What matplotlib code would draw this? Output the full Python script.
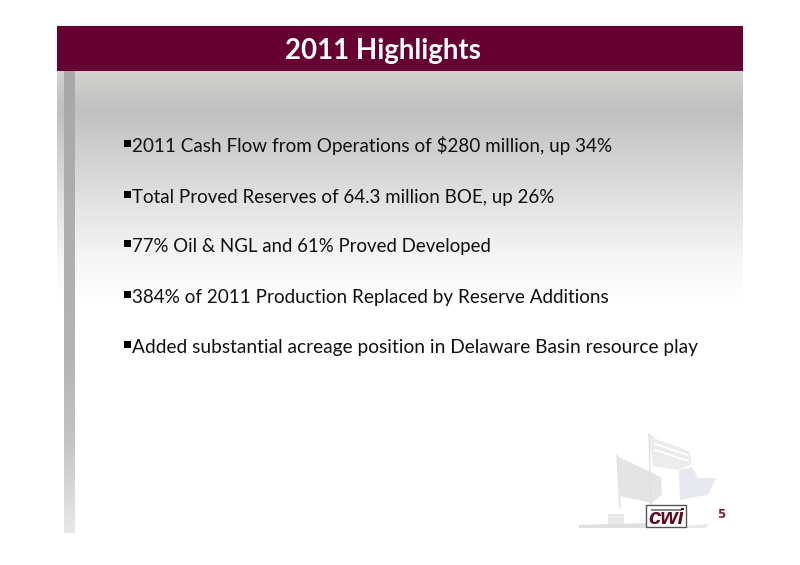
import numpy as np
import matplotlib
matplotlib.use("Agg")
import matplotlib.pyplot as plt
from matplotlib.colors import LinearSegmentedColormap as LSC
from matplotlib.patches import Polygon, Rectangle

title = "2011 Highlights"
bullets = [
    "2011 Cash Flow from Operations of $280 million, up 34%",
    "Total Proved Reserves of 64.3 million BOE, up 26%",
    "77% Oil & NGL and 61% Proved Developed",
    "384% of 2011 Production Replaced by Reserve Additions",
    "Added substantial acreage position in Delaware Basin resource play",
]
bullet_baseline = [152, 203, 252, 303, 353]
bullet_size = [13.6, 13.53, 13.4, 13.62, 13.8]
page = "5"

W, H = 800, 565
plt.rcParams['font.family'] = ['Lato', 'DejaVu Sans']
fig = plt.figure(figsize=(W/100, H/100), dpi=100, facecolor='white')
ax = fig.add_axes([0, 0, 1, 1])
ax.set_xlim(0, W); ax.set_ylim(H, 0); ax.axis('off')

def grad(x0, x1, y0, y1, stops, z=1):
    cm = LSC.from_list('g', stops)
    ax.imshow(np.linspace(0, 1, 256)[:, None], cmap=cm, vmin=0, vmax=1, aspect='auto',
              extent=[x0, x1, y1, y0], zorder=z, interpolation='bilinear')

# slide background
grad(57, 743, 71, 300, [(0, '#d2d2d0'), (0.17, '#c0c0c0'), (0.55, '#e0e0e0'), (0.8, '#f4f4f4'), (1, '#ffffff')], 1)
grad(64, 75, 71, 533, [(0, '#a8a8a8'), (0.62, '#b4b4b4'), (0.8, '#c4c4c4'), (1, '#e8e8e8')], 2)
ax.add_patch(Rectangle((57, 26), 686, 45, fc='#660033', ec='none', zorder=3))
ax.text(383, 51, title, color='white', fontsize=19.9, fontweight='bold', ha='center', va='center', zorder=4)

# bullets
for s, y, fs in zip(bullets, bullet_baseline, bullet_size):
    ax.add_patch(Rectangle((124, y-12), 6.5, 6.5, fc='black', ec='none', zorder=4))
    ax.text(132, y, s, color='#111111', fontsize=fs, ha='left', va='baseline', zorder=4)

# footer art
flag1 = [(617, 456), (661, 477), (662, 495), (653, 502), (651, 503), (620, 496)]
flag2 = [(649, 434), (690, 452), (692, 464), (678, 470), (653, 466)]
flag3 = [(679, 470), (692, 467), (698, 478), (716, 478), (708, 495), (694, 497), (680, 500)]
ax.add_patch(Polygon(flag1, fc='#e4e4e4', ec='none', zorder=4))
ax.add_patch(Polygon(flag2, fc='#ececec', ec='none', zorder=4))
ax.add_patch(Polygon(flag3, fc='#e8e8f0', ec='none', zorder=4))
for yy in (444, 450, 456):
    ax.plot([655, 688], [yy-6, yy+5], color='white', lw=1.3, zorder=5)
ax.plot([617, 620], [455, 508], color='#e0e0e0', lw=1, zorder=4)
ax.plot([649, 651], [434, 505], color='#e0e0e0', lw=1, zorder=4)
ax.add_patch(Rectangle((608, 514), 16, 12, fc='#e8e8e8', ec='none', zorder=4))
ax.add_patch(Polygon([(579, 525), (646, 523), (646, 528), (579, 528)], fc='#e0e0e0', ec='none', zorder=4))
ax.add_patch(Polygon([(686, 526), (709, 524), (705, 528), (686, 528)], fc='#e8e8e8', ec='none', zorder=4))
ax.add_patch(Rectangle((646, 505), 40, 22, fc='white', ec='#555555', lw=1, zorder=6))
ax.add_patch(Rectangle((651, 509), 31, 2, fc='#888888', ec='none', zorder=7))
ax.text(666, 519, "cwi", color='#5c0a1e', fontsize=16, fontweight='bold', fontstyle='italic',
        family=['Liberation Sans'], ha='center', va='center', zorder=7)
ax.text(721, 515, page, color='#7a1f2b', fontsize=8.5, fontweight='bold', family=['DejaVu Sans'],
        ha='center', va='center', zorder=5)

fig.savefig('out.png', dpi=100)
